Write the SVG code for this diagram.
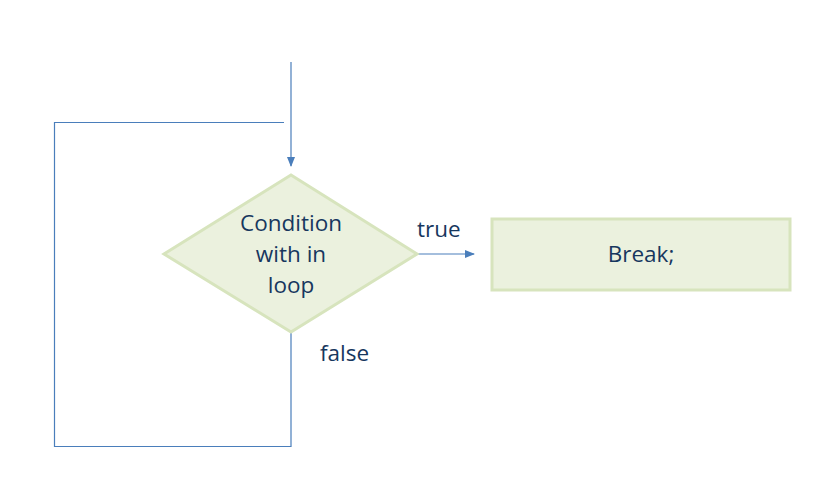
<svg xmlns="http://www.w3.org/2000/svg" width="838" height="499" viewBox="0 0 838 499">
  <defs>
    <marker id="arrow" markerWidth="10" markerHeight="8" refX="9" refY="4" orient="auto" markerUnits="userSpaceOnUse">
      <path d="M0,0 L10,4 L0,8 Z" fill="#4a7ebb"/>
    </marker>
    <style>
      .shape { fill: #ebf1de; stroke: #d7e4bd; stroke-width: 3; }
      .conn { fill: none; stroke: #4a7ebb; stroke-width: 1.2; }
      .lbl { font-family: "Open Sans", "Liberation Sans", sans-serif; font-size: 22.5px; fill: #17375e; }
    </style>
  </defs>
  <rect width="838" height="499" fill="#ffffff"/>

  <g id="connectors">
    <line class="conn" x1="291" y1="62" x2="291" y2="166" marker-end="url(#arrow)"/>
    <polyline class="conn" points="284,122.5 54.5,122.5 54.5,446.5 291,446.5 291,332"/>
    <line class="conn" x1="417" y1="254" x2="474" y2="254" marker-end="url(#arrow)"/>
  </g>

  <g id="condition">
    <polygon class="shape" points="291,175 417,254 291,332 164,254"/>
    <text class="lbl" text-anchor="middle" x="291" y="231">Condition</text>
    <text class="lbl" text-anchor="middle" x="291" y="262">with in</text>
    <text class="lbl" text-anchor="middle" x="291" y="293">loop</text>
  </g>

  <g id="break">
    <rect class="shape" x="492" y="219" width="298" height="71"/>
    <text class="lbl" text-anchor="middle" x="641" y="262">Break;</text>
  </g>

  <g id="labels">
    <text class="lbl" x="417" y="237">true</text>
    <text class="lbl" x="320" y="361">false</text>
  </g>
</svg>
